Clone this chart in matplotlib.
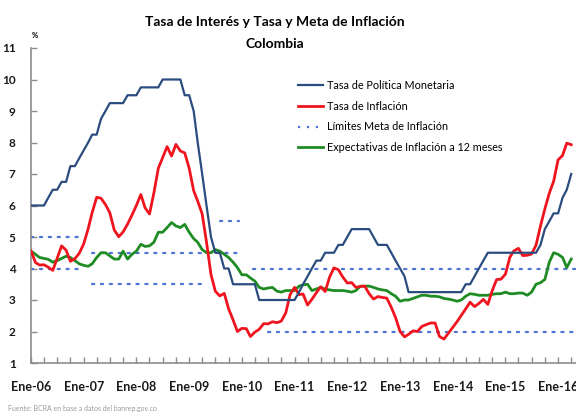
import numpy as np
import pandas as pd
import matplotlib
matplotlib.use("Agg")
import matplotlib.pyplot as plt
import matplotlib.dates as mdates
from matplotlib.lines import Line2D

plt.rcParams['font.family'] = ['Lato', 'DejaVu Sans']

# series mensuales, ene-2006 a abr-2016
fechas = pd.date_range('2006-01-01', periods=124, freq='MS')

tasa_politica = [
    6.0, 6.0, 6.0, 6.0, 6.25, 6.5, 6.5, 6.75, 6.75, 7.25, 7.25, 7.5,        # 2006
    7.75, 8.0, 8.25, 8.25, 8.75, 9.0, 9.25, 9.25, 9.25, 9.25, 9.5, 9.5,     # 2007
    9.5, 9.75, 9.75, 9.75, 9.75, 9.75, 10.0, 10.0, 10.0, 10.0, 10.0, 9.5,   # 2008
    9.5, 9.0, 8.0, 7.0, 6.0, 5.0, 4.5, 4.5, 4.0, 4.0, 3.5, 3.5,             # 2009
    3.5, 3.5, 3.5, 3.5, 3.0, 3.0, 3.0, 3.0, 3.0, 3.0, 3.0, 3.0,             # 2010
    3.0, 3.25, 3.5, 3.75, 4.0, 4.25, 4.25, 4.5, 4.5, 4.5, 4.75, 4.75,       # 2011
    5.0, 5.25, 5.25, 5.25, 5.25, 5.25, 5.0, 4.75, 4.75, 4.75, 4.5, 4.25,    # 2012
    4.0, 3.75, 3.25, 3.25, 3.25, 3.25, 3.25, 3.25, 3.25, 3.25, 3.25, 3.25,  # 2013
    3.25, 3.25, 3.25, 3.5, 3.5, 3.75, 4.0, 4.25, 4.5, 4.5, 4.5, 4.5,        # 2014
    4.5, 4.5, 4.5, 4.5, 4.5, 4.5, 4.5, 4.5, 4.75, 5.25, 5.5, 5.75,          # 2015
    5.75, 6.25, 6.5, 7.0,                                                   # 2016
]

inflacion = [
    4.56, 4.19, 4.11, 4.12, 4.04, 3.94, 4.32, 4.72, 4.58, 4.23, 4.31, 4.48,
    4.78, 5.26, 5.78, 6.26, 6.23, 6.03, 5.77, 5.22, 5.01, 5.16, 5.41, 5.69,
    6.00, 6.35, 5.93, 5.73, 6.39, 7.18, 7.52, 7.87, 7.57, 7.94, 7.73, 7.67,
    7.18, 6.47, 6.14, 5.73, 4.84, 3.81, 3.28, 3.13, 3.21, 2.72, 2.37, 2.00,
    2.10, 2.09, 1.84, 1.98, 2.07, 2.25, 2.24, 2.31, 2.28, 2.33, 2.59, 3.17,
    3.40, 3.17, 3.19, 2.84, 3.02, 3.23, 3.42, 3.27, 3.73, 4.02, 3.96, 3.73,
    3.54, 3.55, 3.40, 3.43, 3.44, 3.20, 3.03, 3.11, 3.08, 3.06, 2.77, 2.44,
    2.00, 1.83, 1.91, 2.02, 2.00, 2.16, 2.22, 2.27, 2.27, 1.84, 1.76, 1.94,
    2.13, 2.32, 2.51, 2.72, 2.93, 2.79, 2.89, 3.02, 2.86, 3.29, 3.65, 3.66,
    3.82, 4.36, 4.56, 4.64, 4.41, 4.42, 4.46, 4.74, 5.35, 5.89, 6.39, 6.77,
    7.45, 7.59, 7.98, 7.93,
]

expectativas = [
    4.55, 4.45, 4.35, 4.32, 4.29, 4.2, 4.25, 4.32, 4.39, 4.35, 4.25, 4.15,
    4.1, 4.07, 4.15, 4.35, 4.5, 4.5, 4.4, 4.3, 4.3, 4.55, 4.3, 4.45,
    4.55, 4.77, 4.7, 4.72, 4.83, 5.15, 5.15, 5.3, 5.46, 5.35, 5.3, 5.4,
    5.15, 4.95, 4.83, 4.6, 4.5, 4.5, 4.6, 4.55, 4.45, 4.35, 4.2, 4.03,
    3.8, 3.8, 3.7, 3.6, 3.4, 3.35, 3.38, 3.4, 3.28, 3.25, 3.3, 3.3,
    3.3, 3.44, 3.48, 3.5, 3.3, 3.35, 3.4, 3.35, 3.32, 3.3, 3.3, 3.3,
    3.28, 3.25, 3.3, 3.44, 3.44, 3.44, 3.4, 3.35, 3.32, 3.3, 3.2, 3.12,
    2.96, 3.0, 3.0, 3.05, 3.1, 3.15, 3.15, 3.12, 3.12, 3.1, 3.05, 3.03,
    3.0, 2.96, 3.0, 3.12, 3.2, 3.18, 3.15, 3.15, 3.15, 3.18, 3.2, 3.2,
    3.25, 3.2, 3.2, 3.22, 3.22, 3.15, 3.25, 3.5, 3.55, 3.65, 4.2, 4.5,
    4.45, 4.35, 4.03, 4.3,
]

# limites de la meta: (desde, hasta, valor)
limites_meta = [
    ('2006-01-01', '2006-12-01', 5.0),
    ('2006-01-01', '2006-12-01', 4.0),
    ('2007-03-01', '2009-12-15', 4.5),
    ('2007-03-01', '2009-04-15', 3.5),
    ('2009-08-01', '2009-12-15', 5.5),
    ('2010-03-20', '2016-05-05', 4.0),
    ('2010-07-01', '2016-05-05', 2.0),
]

azul = '#2B4C7E'
rojo = '#F0141E'
verde = '#1E8C23'
azul_meta = '#4F74D8'

fig = plt.figure(figsize=(5.76, 4.16), dpi=100)
ax = fig.add_axes([31 / 576, 53 / 416, 1 - 31 / 576, 315 / 416])

estilo_punteado = (0, (1, 3))
for desde, hasta, valor in limites_meta:
    ax.plot([pd.Timestamp(desde), pd.Timestamp(hasta)], [valor, valor],
            color=azul_meta, lw=1.6, linestyle=estilo_punteado,
            dash_capstyle='round')

ax.plot(fechas, expectativas, color=verde, lw=2.0, zorder=3)
ax.plot(fechas, inflacion, color=rojo, lw=2.0, zorder=4)
ax.plot(fechas, tasa_politica, color=azul, lw=1.6, zorder=5)

ax.set_xlim(pd.Timestamp('2006-01-01'), pd.Timestamp('2016-05-04'))
ax.set_ylim(1, 11)
ax.set_yticks(range(1, 12))

ax.xaxis.set_major_locator(mdates.YearLocator())
ax.xaxis.set_minor_locator(mdates.MonthLocator(bymonth=[1, 4, 7, 10]))
ax.xaxis.set_major_formatter(mdates.DateFormatter('Ene-%y'))

for lado in ['top', 'right']:
    ax.spines[lado].set_visible(False)
for lado in ['left', 'bottom']:
    ax.spines[lado].set_color('#8C8C8C')
    ax.spines[lado].set_linewidth(1.2)

ax.tick_params(axis='both', which='both', direction='in', color='#8C8C8C',
               length=4, width=1)
ax.tick_params(axis='x', which='major', pad=13, labelsize=9)
ax.tick_params(axis='y', pad=11, labelsize=8.5)
for t in ax.get_xticklabels() + ax.get_yticklabels():
    t.set_fontweight('bold')
    t.set_color('#1A1A1A')

fig.text(0.477, 1 - 22 / 416, 'Tasa de Interés y Tasa y Meta de Inflación',
         ha='center', va='center', fontsize=10, fontweight='bold')
fig.text(0.477, 1 - 44 / 416, 'Colombia',
         ha='center', va='center', fontsize=10, fontweight='bold')
fig.text(35 / 576, 1 - 35 / 416, '%', ha='center', va='center', fontsize=5.5,
         fontweight='bold')
fig.text(8 / 576, 1 - 409 / 416, 'Fuente: BCRA en base a datos del banrep.gov.co',
         ha='left', va='center', fontsize=5, color='#9A9A9A')

manijas = [
    Line2D([], [], color=azul, lw=1.6),
    Line2D([], [], color=rojo, lw=2.0),
    Line2D([], [], color=azul_meta, lw=1.6, linestyle=estilo_punteado),
    Line2D([], [], color=verde, lw=2.0),
]
etiquetas = ['Tasa de Política Monetaria', 'Tasa de Inflación',
             'Límites Meta de Inflación', 'Expectativas de Inflación a 12 meses']
fig.legend(manijas, etiquetas, loc='upper left',
           bbox_to_anchor=(298 / 576, 1 - 80 / 416), frameon=False,
           fontsize=7.8, handlelength=2.3, handletextpad=0.4,
           labelspacing=0.9, borderpad=0, borderaxespad=0)

fig.savefig('out.png', dpi=100)
